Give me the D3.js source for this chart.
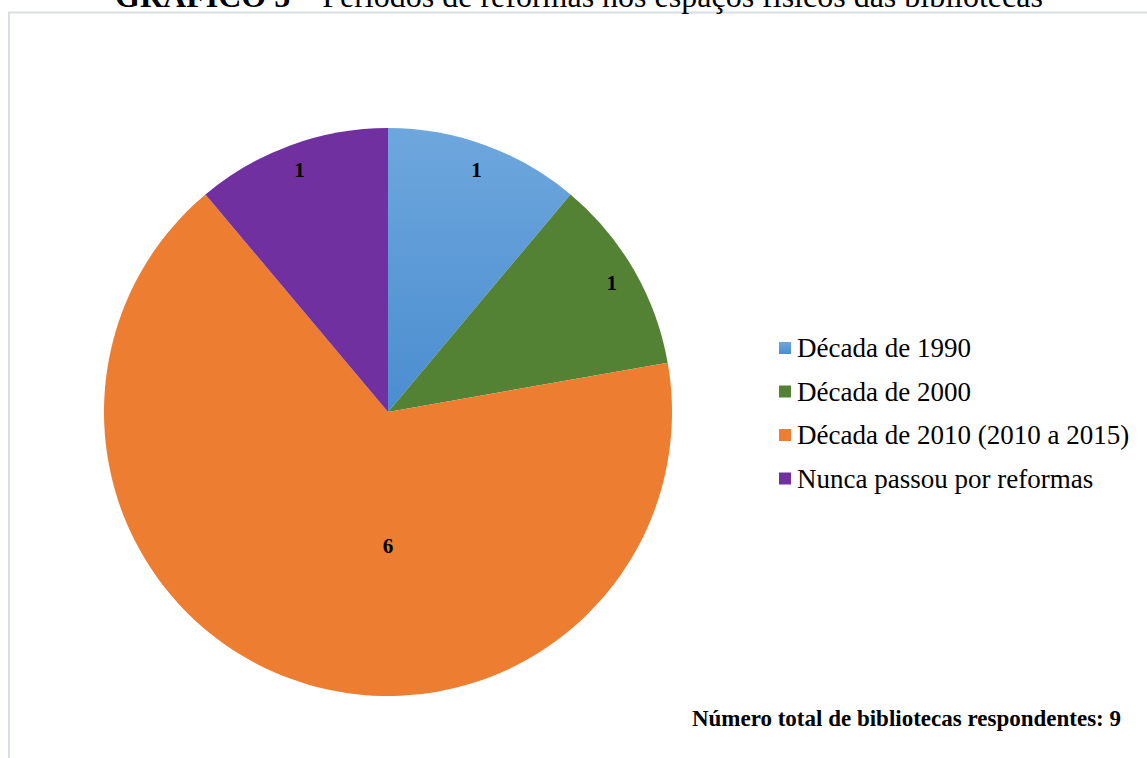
<!DOCTYPE html>
<html>
<head>
<meta charset="utf-8">
<script src="https://cdn.jsdelivr.net/npm/d3@7"></script>
<style>
  html, body { margin: 0; padding: 0; background: #ffffff; }
  svg { display: block; }
</style>
</head>
<body>
<svg id="chart" width="1147" height="758"></svg>
<script>
// Reform periods of library physical spaces
const categories = [
  "Década de 1990",
  "Década de 2000",
  "Década de 2010 (2010 a 2015)",
  "Nunca passou por reformas"
];
const counts = [1, 1, 6, 1];
const colors = ["url(#blueFill)", "#548235", "#ED7D31", "#7030A0"];
const titleBold = "GRÁFICO 5";
const titleRest = " – Períodos de reformas nos espaços físicos das bibliotecas";
const footnote = "Número total de bibliotecas respondentes: 9";

const W = 1147, H = 758;
const svg = d3.select("#chart");
const serif = "'Liberation Serif', 'Times New Roman', serif";

// gradient for the first slice
const defs = svg.append("defs");
const grad = defs.append("linearGradient")
  .attr("id", "blueFill").attr("x1", 0).attr("y1", 0).attr("x2", 0).attr("y2", 1);
grad.append("stop").attr("offset", "0%").attr("stop-color", "#6EA7DD");
grad.append("stop").attr("offset", "100%").attr("stop-color", "#4A8DD0");

// chart frame
svg.append("rect")
  .attr("x", 9).attr("y", 12.5)
  .attr("width", W + 10).attr("height", H + 10)
  .attr("fill", "#ffffff")
  .attr("stroke", "#d9dee5").attr("stroke-width", 2);

// title (partly above the frame)
const title = svg.append("text")
  .attr("x", 579).attr("y", 7)
  .attr("text-anchor", "middle")
  .attr("font-family", serif)
  .attr("font-size", 32)
  .attr("fill", "#000");
title.append("tspan").attr("font-weight", "bold").text(titleBold);
title.append("tspan").text(titleRest);

// pie
const cx = 388, cy = 412, R = 284;
const pie = d3.pie().sort(null).value(d => d)(counts);
const arc = d3.arc().innerRadius(0).outerRadius(R);

const g = svg.append("g").attr("transform", `translate(${cx},${cy})`);
g.selectAll("path.slice")
  .data(pie)
  .enter().append("path")
  .attr("class", "slice")
  .attr("d", arc)
  .attr("fill", (d, i) => colors[i]);

// value labels: small slices near the rim, the dominant slice toward the middle
const total = d3.sum(counts);
g.selectAll("text.val")
  .data(pie)
  .enter().append("text")
  .attr("class", "val")
  .attr("transform", d => {
    const big = d.value / total > 0.5;
    const a = big ? Math.PI : (d.startAngle + d.endAngle) / 2;
    const r = big ? R * 0.47 : R * 0.91;
    return `translate(${r * Math.sin(a)},${-r * Math.cos(a)})`;
  })
  .attr("text-anchor", "middle")
  .attr("dy", "0.35em")
  .attr("font-family", serif)
  .attr("font-weight", "bold")
  .attr("font-size", 21)
  .attr("fill", "#000")
  .text(d => d.value);

// legend
const legend = svg.append("g").attr("transform", "translate(779,348)");
const rows = legend.selectAll("g")
  .data(categories)
  .enter().append("g")
  .attr("transform", (d, i) => `translate(0,${i * 43.5})`);
rows.append("rect")
  .attr("x", 0).attr("y", -6)
  .attr("width", 12).attr("height", 12)
  .attr("fill", (d, i) => colors[i]);
rows.append("text")
  .attr("x", 18).attr("y", 0)
  .attr("dy", "0.35em")
  .attr("font-family", serif)
  .attr("font-size", 27)
  .attr("fill", "#000")
  .text(d => d);

// footnote
svg.append("text")
  .attr("x", 1121).attr("y", 726)
  .attr("text-anchor", "end")
  .attr("font-family", serif)
  .attr("font-weight", "bold")
  .attr("font-size", 23)
  .attr("fill", "#000")
  .text(footnote);
</script>
</body>
</html>
